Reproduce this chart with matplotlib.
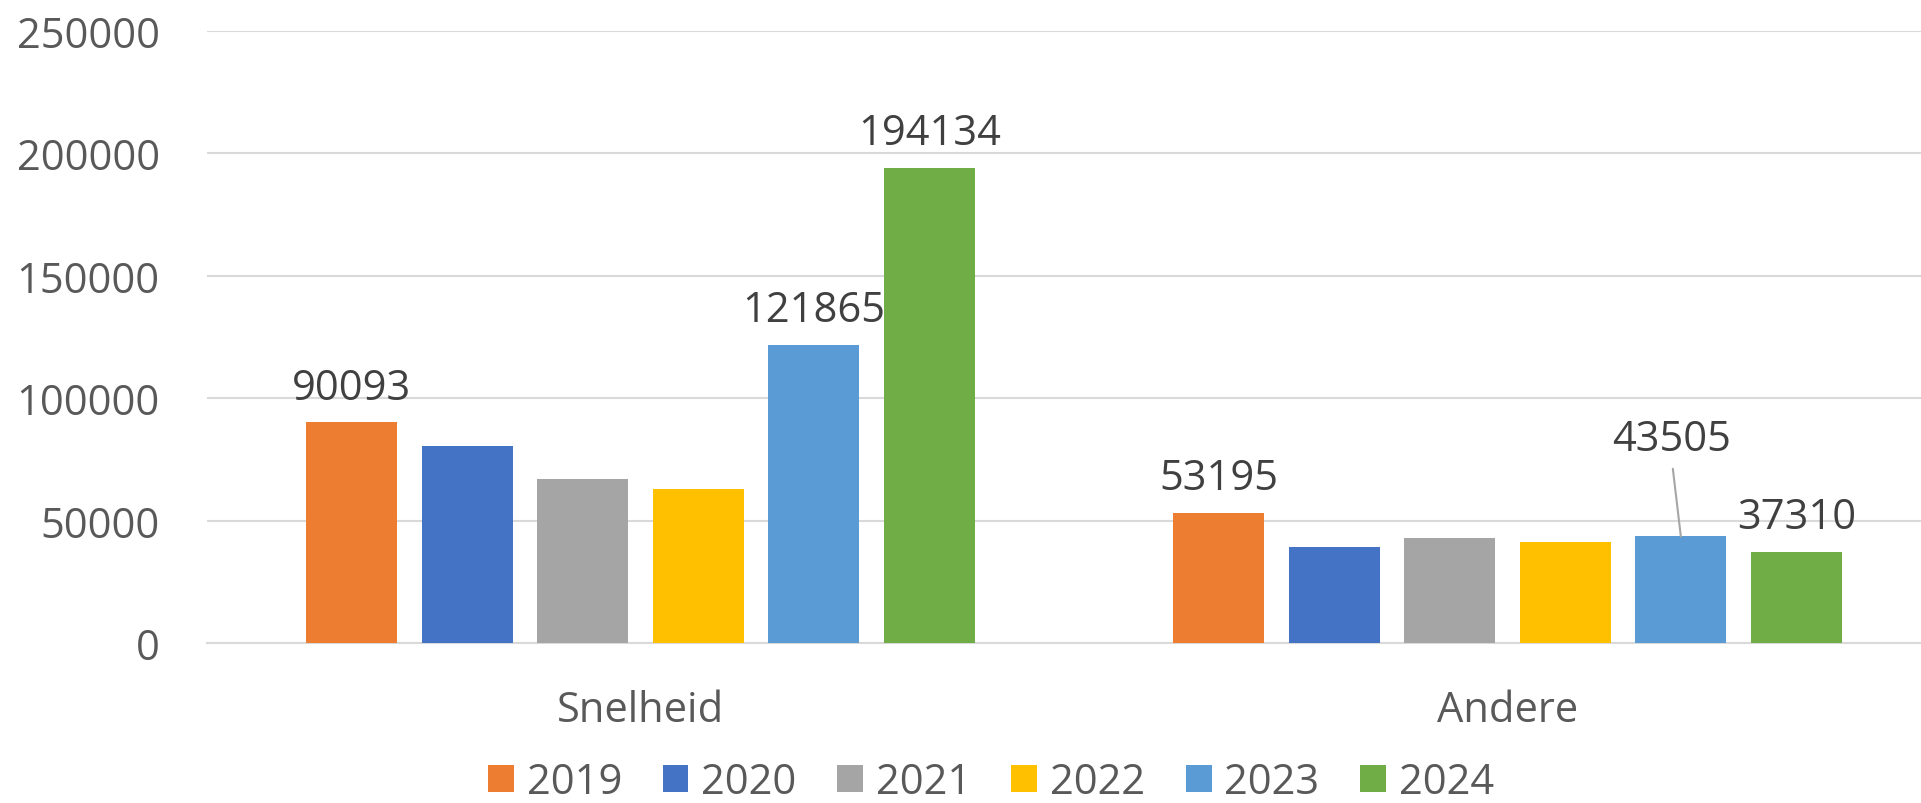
import matplotlib
matplotlib.use("Agg")
import matplotlib.pyplot as plt
import numpy as np

# categories and series
categories = ["Snelheid", "Andere"]
years = ["2019", "2020", "2021", "2022", "2023", "2024"]
values = {
    "2019": [90093, 53195],
    "2020": [80500, 39100],
    "2021": [67000, 42900],
    "2022": [62800, 41300],
    "2023": [121865, 43505],
    "2024": [194134, 37310],
}
# which bars get a data label (None = no label)
labels = {
    "2019": [90093, 53195],
    "2020": [None, None],
    "2021": [None, None],
    "2022": [None, None],
    "2023": [121865, 43505],
    "2024": [194134, 37310],
}
colors = ["#ED7D31", "#4472C4", "#A5A5A5", "#FFC000", "#5B9BD5", "#70AD47"]
yticks = [0, 50000, 100000, 150000, 200000, 250000]

plt.rcParams['font.family'] = ['Open Sans', 'DejaVu Sans']
fs = 30

fig = plt.figure(figsize=(19.21, 8.04), dpi=100)
ax = fig.add_axes([207/1921, 160/804, 1734/1921, 612/804])

x = np.arange(len(categories))
step = 0.1333
width = 0.105
for i, yr in enumerate(years):
    pos = x + (i - 2.5) * step
    bars = ax.bar(pos, values[yr], width, color=colors[i], label=yr, zorder=3)
    for j, b in enumerate(bars):
        lab = labels[yr][j]
        if lab is None:
            continue
        if yr == "2023" and j == 1:
            # label moved up with a leader line
            ax.annotate(str(lab), xy=(pos[j], values[yr][j]), xytext=(-9, 97),
                        textcoords='offset pixels', ha='center', va='center',
                        fontsize=fs, color="#404040",
                        arrowprops=dict(arrowstyle='-', color='#A6A6A6', lw=1.5,
                                        shrinkA=4, shrinkB=0, relpos=(0.5, 0)))
        else:
            ax.annotate(str(lab), xy=(pos[j], values[yr][j]), xytext=(0, 10),
                        textcoords='offset points', ha='center', va='bottom',
                        fontsize=fs, color="#404040")

ax.set_xlim(-0.5, 1.5)
ax.set_ylim(0, 250000)
ax.set_yticks(yticks)
ax.set_yticklabels([str(t) for t in yticks])
ax.set_xticks(x)
ax.set_xticklabels(categories)
ax.tick_params(axis='y', length=0, pad=34, labelsize=fs, labelcolor="#595959")
ax.tick_params(axis='x', length=0, pad=33, labelsize=fs, labelcolor="#595959")
ax.grid(axis='y', color="#D9D9D9", lw=1.5, zorder=0)
for s in ["top", "right", "left"]:
    ax.spines[s].set_visible(False)
ax.spines["bottom"].set_color("#D9D9D9")
ax.spines["bottom"].set_linewidth(1.5)

fig.legend(loc='center', bbox_to_anchor=(991/1921, 21/804), ncol=6, frameon=False,
           fontsize=fs, labelcolor="#595959", handlelength=0.62, handleheight=0.62,
           handletextpad=0.31, columnspacing=0.97, borderpad=0)

fig.savefig("out.png", dpi=100)
